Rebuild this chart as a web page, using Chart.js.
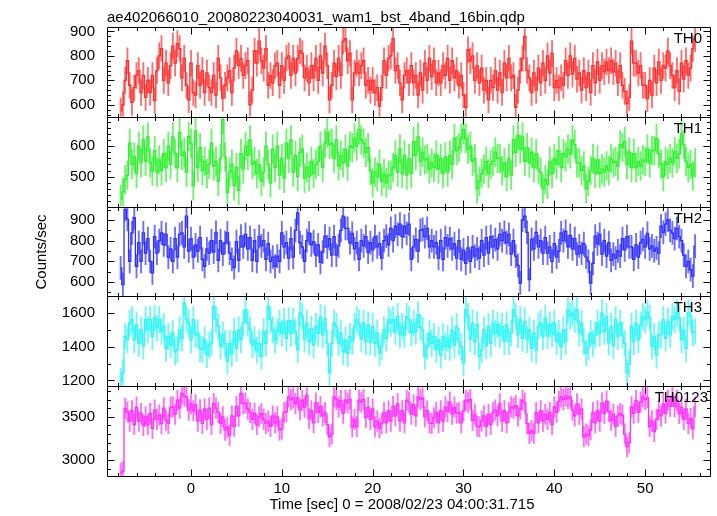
<!DOCTYPE html>
<html>
<head>
<meta charset="utf-8">
<script src="https://cdn.jsdelivr.net/npm/chart.js@4.4.0/dist/chart.umd.min.js"></script>
<style>
  html, body { margin: 0; padding: 0; background: #fff; }
  #wrap { width: 717px; height: 516px; }
</style>
</head>
<body>
<div id="wrap"><canvas id="lc" width="717" height="516"></canvas></div>
<script>
// bin grid of the light curve (0.25 s bins, centre of first bin)
const T_START = -7.75;
const BIN = 0.25;

// count rates, one value per bin
const th0 = [
  575,600,700,780,680,610,670,720,740,650,720,630,700,650,720,617,740,800,830,700,
  770,690,760,840,770,850,830,710,790,680,620,770,650,640,760,680,740,650,730,670,
  650,720,640,790,710,627,680,710,740,650,750,820,760,790,720,760,780,600,660,820,
  770,860,780,750,830,680,720,690,760,770,680,760,700,790,800,720,790,730,790,820,
  810,710,750,690,760,710,790,700,800,730,840,760,620,680,770,715,790,720,860,870,
  780,810,620,730,770,730,760,780,680,700,660,700,650,670,595,670,780,720,790,800,
  870,740,760,690,620,720,740,690,760,690,720,640,730,660,770,700,790,715,780,690,
  730,690,760,720,790,700,780,710,740,680,720,640,590,825,780,800,700,760,690,750,
  660,700,620,700,670,740,660,730,650,770,710,790,710,720,590,660,740,790,880,740,
  710,650,730,660,750,690,770,700,800,730,810,670,700,670,710,680,780,720,800,725,
  790,705,730,660,740,670,730,650,760,690,775,700,760,735,775,740,780,735,770,690,
  760,680,655,605,630,860,770,770,730,760,680,680,625,700,640,750,690,775,700,760,
  750,820,760,720,670,740,655,770,705,780,720,750,830,870
];
const th1 = [
  425,450,490,505,610,540,565,510,600,545,620,550,630,545,518,585,515,555,520,575,
  530,600,540,630,575,530,645,570,580,515,632,610,470,650,530,595,520,550,510,540,
  610,535,550,485,560,687,565,448,515,540,470,530,455,575,525,600,570,620,540,550,
  510,540,485,515,600,540,480,590,530,600,505,560,495,610,560,620,515,570,500,580,
  590,495,530,500,550,510,540,550,600,530,610,643,605,610,560,620,535,570,545,590,
  535,600,595,625,600,654,620,610,580,595,520,480,515,500,540,485,510,480,505,505,
  530,570,515,590,510,570,505,560,510,615,570,630,550,580,555,560,525,545,530,570,
  525,560,510,565,515,570,540,625,585,595,625,654,625,590,600,550,560,460,485,510,
  525,550,510,540,550,580,560,560,520,545,500,560,505,620,580,635,590,630,550,595,
  545,580,530,575,525,515,460,490,475,550,510,560,540,585,530,575,565,590,575,620,
  605,545,545,520,535,460,485,520,560,510,555,510,525,515,535,520,560,545,550,535,
  605,595,615,540,580,530,575,530,550,535,555,550,590,545,585,585,625,575,540,500,
  550,540,560,545,582,560,575,640,605,550,530,540,502,545
];
const th2 = [
  668,587,950,903,700,838,911,676,790,700,838,740,810,700,644,820,740,800,838,780,
  830,720,760,700,810,720,830,838,770,919,750,810,720,780,750,815,710,676,760,740,
  800,745,840,705,800,735,790,838,740,709,670,795,705,822,770,830,760,815,705,800,
  700,820,775,800,710,785,700,720,676,725,700,838,770,790,715,810,720,850,935,790,
  770,700,800,838,780,795,730,780,695,745,822,770,810,730,820,730,775,850,919,860,
  860,790,835,760,790,710,800,775,820,745,790,755,820,770,785,715,800,822,780,860,
  800,870,830,880,820,870,835,880,709,770,806,750,850,855,820,860,770,800,770,790,
  715,800,710,815,775,810,760,785,715,800,710,755,690,765,700,770,725,760,715,800,
  730,815,740,820,770,805,760,830,800,840,790,830,735,800,725,680,595,900,919,840,
  611,806,760,840,770,800,740,815,740,770,700,785,720,750,838,800,845,770,825,760,
  810,735,775,740,785,720,700,595,690,822,785,830,735,800,725,790,705,735,715,750,
  725,810,755,820,770,770,710,780,720,790,806,770,835,760,775,750,765,740,870,840,
  880,900,850,838,810,860,820,800,730,676,700,660,628,773
];
const th3 = [
  1196,1245,1462,1442,1540,1560,1440,1530,1420,1500,1403,1560,1500,1560,1460,1570,1510,1560,1490,1520,
  1390,1460,1410,1480,1370,1383,1500,1450,1659,1560,1540,1440,1560,1470,1480,1390,1383,1440,1353,1410,
  1422,1639,1560,1520,1403,1470,1420,1314,1420,1360,1490,1390,1500,1440,1540,1620,1540,1500,1410,1440,
  1380,1420,1343,1490,1420,1639,1560,1500,1440,1490,1540,1480,1550,1450,1555,1480,1550,1490,1383,1600,
  1580,1445,1540,1430,1505,1410,1520,1480,1575,1470,1565,1420,1245,1420,1540,1520,1422,1480,1370,1440,
  1360,1460,1430,1520,1560,1540,1445,1540,1430,1530,1425,1520,1420,1480,1363,1400,1501,1450,1560,1540,
  1560,1490,1580,1470,1520,1470,1580,1560,1480,1540,1490,1590,1515,1500,1343,1400,1480,1420,1460,1383,
  1440,1350,1460,1400,1450,1395,1500,1410,1520,1430,1400,1304,1620,1580,1445,1540,1430,1530,1343,1380,
  1500,1405,1520,1420,1540,1480,1530,1470,1520,1430,1530,1430,1482,1620,1580,1470,1560,1450,1550,1442,
  1500,1390,1480,1380,1521,1540,1460,1570,1465,1530,1475,1540,1430,1480,1400,1500,1430,1620,1580,1600,
  1560,1620,1482,1540,1430,1363,1400,1480,1420,1470,1540,1480,1600,1490,1580,1425,1520,1405,1560,1460,
  1540,1470,1420,1245,1300,1520,1430,1540,1440,1530,1580,1560,1600,1570,1403,1460,1350,1470,1470,1560,
  1450,1550,1470,1580,1560,1600,1570,1442,1500,1390,1600,1580,1482,1490
];
const th0123 = [
  2846,2865,3596,3558,3450,3570,3410,3610,3450,3540,3400,3500,3410,3540,3365,3577,3470,3520,3420,3600,
  3460,3423,3610,3615,3530,3692,3600,3770,3740,3731,3577,3650,3570,3640,3450,3580,3423,3590,3470,3600,
  3410,3654,3600,3550,3423,3500,3346,3380,3288,3510,3390,3620,3510,3770,3650,3660,3590,3550,3470,3540,
  3410,3500,3538,3470,3423,3450,3390,3510,3430,3500,3346,3360,3550,3560,3731,3700,3720,3654,3720,3580,
  3692,3610,3750,3480,3570,3430,3660,3550,3620,3510,3550,3410,3269,3300,3731,3700,3615,3690,3540,3692,
  3660,3700,3385,3470,3385,3692,3670,3700,3490,3610,3470,3590,3385,3450,3370,3420,3550,3430,3570,3450,
  3620,3510,3650,3450,3570,3430,3692,3670,3530,3640,3510,3731,3700,3720,3500,3570,3430,3423,3490,3550,
  3430,3570,3450,3615,3560,3670,3530,3610,3540,3550,3430,3570,3692,3670,3700,3460,3530,3390,3385,3450,
  3510,3390,3530,3410,3550,3577,3510,3650,3450,3570,3430,3550,3615,3600,3630,3510,3590,3692,3660,3420,
  3308,3340,3310,3550,3430,3570,3450,3530,3470,3550,3410,3615,3550,3680,3731,3700,3740,3710,3731,3577,
  3510,3650,3530,3590,3269,3300,3280,3350,3550,3430,3570,3450,3660,3540,3680,3560,3460,3530,3390,3510,
  3538,3520,3300,3154,3200,3615,3540,3690,3550,3670,3731,3700,3720,3385,3450,3330,3470,3577,3510,3650,
  3540,3692,3620,3740,3620,3692,3538,3610,3470,3590,3423,3480,3360,3615
];

const panelNames = ['TH0', 'TH1', 'TH2', 'TH3', 'TH0123'];
const panelSeries = [th0, th1, th2, th3, th0123];
const errHalf = [53, 47, 56, 77, 118];            // 1-sigma half length of error bars
const panelMin = [551, 402, 530, 1166, 2815];
const panelMax = [918, 696, 965, 1698, 3854];
const majorTicks = [[600, 700, 800, 900], [500, 600], [600, 700, 800, 900], [1200, 1400, 1600], [3000, 3500]];
const minorStep = [20, 20, 50, 100, 100];
const xTicks = [0, 10, 20, 30, 40, 50];
const colors = ['#ff2f2f', '#2ff02f', '#2f2fff', '#2ff5f5', '#ff2fff'];
const barColors = ['rgba(255,47,47,0.7)', 'rgba(47,240,47,0.7)', 'rgba(47,47,255,0.7)', 'rgba(47,245,245,0.7)', 'rgba(255,47,255,0.7)'];

const FONT = 'Liberation Sans, Helvetica, Arial, sans-serif';
const times = th0.map((v, i) => T_START + BIN * i);

const datasets = [];
panelSeries.forEach((s, k) => {
  datasets.push({
    type: 'line',
    yAxisID: 'y' + k,
    data: s.map((v, i) => ({ x: times[i], y: v })),
    borderColor: colors[k],
    borderWidth: 1.3,
    stepped: 'middle',
    pointRadius: 0,
    fill: false,
    order: 0
  });
});
panelSeries.forEach((s, k) => {
  datasets.push({
    type: 'bar',
    yAxisID: 'y' + k,
    data: s.map((v, i) => ({ x: times[i], y: [v - errHalf[k], v + errHalf[k]] })),
    backgroundColor: barColors[k],
    borderWidth: 0,
    barThickness: 1.2,
    grouped: false,
    order: 1
  });
});

const scales = {
  x: {
    type: 'linear',
    min: -9.25,
    max: 57.25,
    offset: false,
    grid: { display: false, offset: false, drawTicks: false },
    border: { display: false },
    afterBuildTicks: s => { s.ticks = xTicks.map(v => ({ value: v })); },
    afterFit: s => { s.height = 40; },
    ticks: { color: '#000', font: { family: FONT, size: 15 }, padding: 4, maxRotation: 0, autoSkip: false,
             callback: v => String(v) }
  }
};
panelNames.forEach((n, k) => {
  scales['y' + k] = {
    type: 'linear',
    position: 'left',
    stack: 'panels',
    stackWeight: 1,
    weight: 5 - k,
    min: panelMin[k],
    max: panelMax[k],
    offset: false,
    beginAtZero: false,
    grid: { display: false, drawTicks: false },
    border: { display: false },
    afterBuildTicks: s => { s.ticks = majorTicks[k].map(v => ({ value: v })); },
    afterFit: s => { s.width = 107; },
    ticks: { color: '#000', font: { family: FONT, size: 15 }, padding: 12, autoSkip: false,
             callback: v => String(v) }
  };
});

const framePlugin = {
  id: 'frame',
  beforeDatasetDraw(chart, args) {
    const ys = chart.scales[chart.data.datasets[args.index].yAxisID];
    const a = chart.chartArea;
    const ctx = chart.ctx;
    ctx.save();
    ctx.beginPath();
    ctx.rect(a.left, ys.top, a.right - a.left, ys.bottom - ys.top);
    ctx.clip();
  },
  afterDatasetDraw(chart) {
    chart.ctx.restore();
  },
  afterDraw(chart) {
    const ctx = chart.ctx;
    const a = chart.chartArea;
    const xs = chart.scales.x;
    ctx.save();
    ctx.strokeStyle = '#000';
    ctx.lineWidth = 1;
    const L = Math.round(a.left) + 0.5, R = Math.round(a.right) - 0.5;
    panelNames.forEach((n, k) => {
      const ys = chart.scales['y' + k];
      const top = Math.round(ys.top) + 0.5, bot = Math.round(ys.bottom) + 0.5;
      ctx.beginPath();
      ctx.rect(L, top, R - L, bot - top);
      // x ticks, top and bottom of every panel
      for (let t = -8; t <= 56; t += 2) {
        const px = Math.round(xs.getPixelForValue(t)) + 0.5;
        const len = t % 10 === 0 ? 7 : 3.5;
        ctx.moveTo(px, top); ctx.lineTo(px, top + len);
        ctx.moveTo(px, bot); ctx.lineTo(px, bot - len);
      }
      // y ticks, left and right
      const st = minorStep[k];
      for (let v = Math.ceil(panelMin[k] / st) * st; v <= panelMax[k]; v += st) {
        const py = Math.round(ys.getPixelForValue(v)) + 0.5;
        const len = majorTicks[k].includes(v) ? 7 : 3.5;
        ctx.moveTo(L, py); ctx.lineTo(L + len, py);
        ctx.moveTo(R, py); ctx.lineTo(R - len, py);
      }
      ctx.stroke();
      // panel label
      ctx.fillStyle = '#000';
      ctx.font = '15px ' + FONT;
      ctx.textAlign = 'right';
      ctx.textBaseline = 'alphabetic';
      ctx.fillText(n, k === 4 ? 708 : 702, ys.top + 16);
    });
    ctx.fillStyle = '#000';
    ctx.font = '15px ' + FONT;
    ctx.textAlign = 'left';
    ctx.textBaseline = 'alphabetic';
    ctx.fillText('ae402066010_20080223040031_wam1_bst_4band_16bin.qdp', 107, 22);
    ctx.textAlign = 'center';
    ctx.textBaseline = 'middle';
    ctx.fillText('Time [sec] 0 = 2008/02/23 04:00:31.715', 402, 505);
    ctx.translate(42, 252);
    ctx.rotate(-Math.PI / 2);
    ctx.fillText('Counts/sec', 0, 0);
    ctx.restore();
  }
};

new Chart(document.getElementById('lc'), {
  type: 'line',
  data: { datasets: datasets },
  options: {
    responsive: false,
    devicePixelRatio: 1,
    animation: false,
    layout: { padding: { top: 27, right: 6, left: 0, bottom: 0 } },
    plugins: { legend: { display: false }, tooltip: { enabled: false }, title: { display: false } },
    scales: scales
  },
  plugins: [framePlugin]
});
</script>
</body>
</html>
